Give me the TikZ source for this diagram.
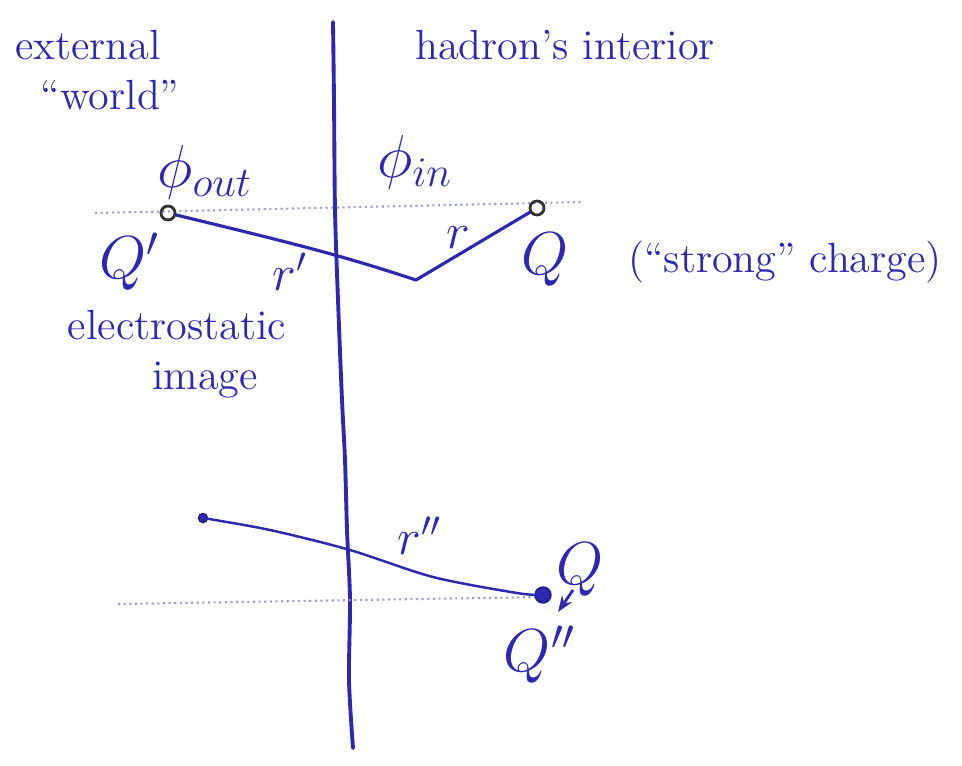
\documentclass[tikz,border=0pt]{standalone}
\usepackage{amsmath}
\usepackage{xcolor}
\usepackage{tikz}
\usetikzlibrary{calc,arrows.meta}
\definecolor{ink}{RGB}{45,40,175}
\definecolor{faint}{RGB}{150,160,215}
\begin{document}
\begin{tikzpicture}[
  ink/.style={draw=ink, line width=0.9pt, line cap=round},
  guide/.style={draw=faint, densely dotted, line width=0.6pt},
  lbl/.style={text=ink, font=\large, inner sep=1pt},
  chg/.style={text=ink, font=\LARGE, inner sep=1pt},
  dst/.style={text=ink, font=\Large, inner sep=1pt},
  opendot/.style={circle, draw=black!80, line width=0.8pt, inner sep=0pt, minimum size=1.4mm},
  fulldot/.style={circle, fill=ink, draw=ink!70!black, inner sep=0pt, minimum size=1.6mm},
  arr/.style={-{Stealth[length=1.6mm]}, draw=ink, line width=0.8pt}
]
\useasboundingbox (0,0) rectangle (9.62,-7.65);
% ---- wall of the hadron
\draw[ink, line width=1.1pt] plot[smooth] coordinates {(3.33,-0.22) (3.34,-1.00) (3.35,-2.10) (3.38,-3.00) (3.42,-4.00) (3.45,-4.60) (3.47,-5.30) (3.50,-6.00) (3.49,-6.80) (3.53,-7.48)};
% ---- region labels
\node[lbl] (ext) at (0.88,-0.45) {external};
\node[lbl] (wld) at (1.10,-0.95) {``world''};
\node[lbl] (hin) at (5.65,-0.45) {hadron's interior};
\node[chg] (pout) at (2.05,-1.72) {$\phi_{out}$};
\node[chg] (pin) at (4.15,-1.62) {$\phi_{in}$};
% ---- upper construction
\draw[guide] (0.95,-2.13) -- (5.82,-2.02);
\node[opendot] (qa) at (1.68,-2.13) {};
\node[opendot] (qb) at (5.37,-2.08) {};
\coordinate (pt) at (4.16,-2.80);
\draw[ink] (qa) .. controls (3.00,-2.45) and (3.40,-2.55) .. (pt);
\draw[ink] (pt) -- (qb);
\node[chg] (qal) at (1.30,-2.62) {$Q'$};
\node[dst] (ra) at (2.90,-2.72) {$r'$};
\node[dst] (rb) at (4.58,-2.38) {$r$};
\node[chg] (qbl) at (5.45,-2.60) {$Q$};
\node[lbl] (strong) at (7.85,-2.62) {(``strong'' charge)};
\node[lbl] (elec) at (1.77,-3.25) {electrostatic};
\node[lbl] (img) at (2.05,-3.80) {image};
% ---- lower construction
\draw[guide] (1.18,-6.04) -- (5.40,-5.97);
\node[fulldot, minimum size=0.9mm] (qc) at (2.03,-5.18) {};
\node[fulldot] (qd) at (5.43,-5.95) {};
\draw[ink, line width=0.7pt] plot[smooth] coordinates {(qc) (2.70,-5.30) (3.50,-5.50) (4.33,-5.77) (5.17,-5.93) (qd)};
\node[dst] (rc) at (4.20,-5.36) {$r''$};
\node[chg] (qdl) at (5.80,-5.70) {$Q$};
\node[chg] (qel) at (5.40,-6.55) {$Q''$};
\coordinate (tip) at (5.58,-6.12);
\coordinate (tail) at (5.73,-5.90);
\draw[arr] (tail) -- (tip);
\end{tikzpicture}
\end{document}
